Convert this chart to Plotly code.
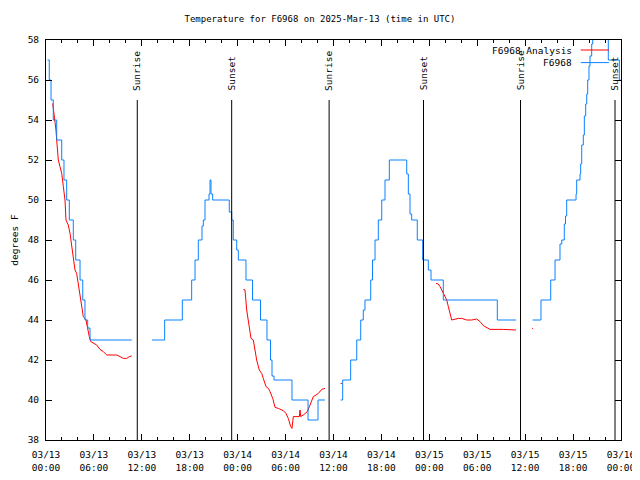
import plotly.graph_objects as go
import pandas as pd

BASE = pd.Timestamp("2025-03-13 00:00")

# Hours since 2025-03-13 00:00 UTC (None = data gap)
obs_hours = [0.19, 0.41, 0.63, 0.91, 1.34, 1.97, 2.25, 2.59, 2.92, 3.42, 3.72, 4.26, 4.60, 4.88, 5.22, 5.51, 10.73,
             None,
             13.27, 14.86, 17.07, 18.24, 18.66, 19.07, 19.53, 19.70, 19.91, 20.41, 20.54, 20.66, 20.87, 22.95,
             23.25, 23.45, 23.88, 24.08, 25.04, 25.86, 26.86, 27.67, 28.11, 28.30, 28.55, 30.80, 32.81, 34.06, 34.94,
             None,
             36.90, 37.15, 38.15, 38.91, 39.41, 39.73, 39.94, 40.66, 40.88, 41.20, 41.61, 42.04, 42.45, 42.99,
             44.99, 45.17, 45.37, 45.58, 45.79, 46.49, 47.17, 47.87, 48.21, 49.75, 56.51, 58.85,
             None,
             60.94, 61.98, 63.20, 63.74, 64.36, 64.58, 64.90, 65.05, 65.20, 66.37, 66.45, 66.87, 66.95, 67.08,
             67.28, 67.41, 67.58, 67.71, 67.83, 67.99, 68.12, 68.33, 68.46, 68.62, 70.41, 71.79, 71.94]
obs_temp = [57, 56, 55, 54, 53, 52, 51, 50, 49, 48, 47, 46, 45, 44, 43.6, 43, 43,
            None,
            43, 44, 45, 46, 47, 48, 48.7, 49, 50, 50.3, 51, 50.3, 50, 49.4,
            49, 48, 47.5, 47, 46, 45, 44, 43, 42, 41.2, 41, 40, 39, 40, 40,
            None,
            40, 41, 42, 43, 44, 44.5, 45, 46, 47, 48, 49, 50, 51, 52,
            52, 51.3, 50.3, 49.3, 49, 48, 47, 46.5, 46, 45, 44, 44,
            None,
            44, 45, 46, 47, 47.8, 48, 48.8, 49.2, 50, 50.3, 51, 51.3, 51.8, 52.75,
            53.25, 54.2, 54.8, 55.3, 56, 56.7, 57.2, 57.8, 58.5, 59, 57, 56, 56]

ana_hours = [0.84, 1.00, 1.13, 1.25, 1.34, 1.54, 1.75, 1.97, 2.17, 2.38, 2.50, 2.79, 3.01, 3.22, 3.42, 3.63,
             3.84, 4.04, 4.17, 4.35, 4.47, 4.67, 5.01, 5.22, 5.42, 5.60, 5.92, 6.35, 6.76, 7.18, 7.60, 8.85,
             9.27, 9.68, 10.11, 10.43, 10.73,
             None,
             24.71, 24.92, 25.13, 25.33, 25.54, 25.67, 25.96, 26.17, 26.38, 26.71, 27.01, 27.21, 27.55, 27.84,
             28.05, 28.39, 28.68, 29.09, 29.71, 30.05, 30.34, 30.64, 30.80, 30.97, 31.39, 31.72, 31.81, 31.89,
             32.22, 32.72, 33.06, 33.47, 33.81, 34.10, 34.52, 34.94,
             None,
             36.88, 37.06,
             None,
             48.84, 49.12, 49.34, 49.75, 50.18, 50.38, 50.59, 50.80, 51.63, 52.05, 52.68, 53.31, 53.93, 54.35,
             54.76, 55.19, 55.60, 57.26, 58.31, 58.85,
             None,
             60.86, 60.98]
ana_temp = [54.83, 54.33, 54.0, 53.5, 53.0, 52.0, 51.67, 51.33, 50.67, 50.0, 49.0, 48.75, 48.33, 47.67, 47.0, 46.5,
            46.33, 45.83, 45.5, 45.17, 44.67, 44.17, 44.0, 43.5, 43.17, 42.92, 42.83, 42.75, 42.53, 42.42, 42.25, 42.25,
            42.17, 42.08, 42.08, 42.17, 42.2,
            None,
            45.53, 45.5, 44.5, 44.0, 43.5, 43.08, 43.0, 42.5, 42.0, 41.5, 41.33, 41.08, 40.67, 40.58,
            40.42, 40.08, 39.63, 39.58, 39.47, 39.33, 39.08, 38.67, 38.58, 39.17, 39.17, 39.17, 39.5, 39.17,
            39.25, 39.42, 39.75, 40.17, 40.25, 40.33, 40.53, 40.58,
            None,
            40.83, 40.83,
            None,
            45.83, 45.8, 45.67, 45.33, 45.0, 44.67, 44.33, 44.0, 44.08, 44.08, 44.0, 44.0, 44.05, 43.92,
            43.72, 43.63, 43.53, 43.53, 43.53, 43.5,
            None,
            43.58, 43.58]

event_hours = [11.43, 23.25, 35.45, 47.27, 59.42, 71.25]
event_labels = ["Sunrise", "Sunset", "Sunrise", "Sunset", "Sunrise", "Sunset"]

tick_hours = [0, 6, 12, 18, 24, 30, 36, 42, 48, 54, 60, 66, 72]
tick_labels = ["03/13<br>00:00", "03/13<br>06:00", "03/13<br>12:00", "03/13<br>18:00",
               "03/14<br>00:00", "03/14<br>06:00", "03/14<br>12:00", "03/14<br>18:00",
               "03/15<br>00:00", "03/15<br>06:00", "03/15<br>12:00", "03/15<br>18:00",
               "03/16<br>00:00"]
y_ticks = [38, 40, 42, 44, 46, 48, 50, 52, 54, 56, 58]

series_names = ["F6968_Analysis", "F6968"]
series_colors = ["#ff0000", "#0a80ff"]


def to_time(hours):
    return [None if h is None else BASE + pd.Timedelta(hours=h) for h in hours]


FONT = "DejaVu Sans Mono"

fig = go.Figure()
fig.add_trace(go.Scatter(x=to_time(ana_hours), y=ana_temp, mode="lines",
                         line=dict(color=series_colors[0], width=1), connectgaps=False,
                         name=series_names[0], showlegend=False))
fig.add_trace(go.Scatter(x=to_time(obs_hours), y=obs_temp, mode="lines",
                         line=dict(color=series_colors[1], width=1, shape="hv"), connectgaps=False,
                         name=series_names[1], showlegend=False))

for h, lab in zip(event_hours, event_labels):
    t = BASE + pd.Timedelta(hours=h)
    fig.add_shape(type="line", xref="x", yref="paper", x0=t, x1=t, y0=0, y1=0.85,
                  line=dict(color="black", width=1))
    fig.add_annotation(x=t, xref="x", y=0.868, yref="paper", text=lab, textangle=-90,
                       showarrow=False, xanchor="center", yanchor="bottom",
                       font=dict(family=FONT, size=9.5, color="black"))

# legend (gnuplot style: text then line sample)
leg_y = [0.975, 0.9435]
for name, col, ly in zip(series_names, series_colors, leg_y):
    fig.add_annotation(x=0.918, xref="paper", y=ly, yref="paper", text=name.replace("_", " "),
                       showarrow=False, xanchor="right", yanchor="middle",
                       font=dict(family=FONT, size=9.5, color="black"))
    fig.add_shape(type="line", xref="paper", yref="paper", x0=0.93, x1=0.979, y0=ly, y1=ly,
                  line=dict(color=col, width=1))

fig.add_annotation(x=-0.056, xref="paper", y=0.5, yref="paper", text="degrees F", textangle=-90,
                   showarrow=False, xanchor="center", yanchor="middle",
                   font=dict(family=FONT, size=9.5, color="black"))

# page body has an 8px default margin, so margins are offset by 8px
fig.update_layout(
    width=640, height=480,
    margin=dict(l=38, r=27, t=32, b=48, autoexpand=False),
    paper_bgcolor="white", plot_bgcolor="white",
    title=dict(text="Temperature for F6968 on 2025-Mar-13 (time in UTC)", x=(320 - 8) / 640, xref="container",
               xanchor="center", y=1 - 11 / 480, yref="container", yanchor="middle",
               font=dict(family=FONT, size=9, color="black"), automargin=False),
    font=dict(family=FONT, size=9.5, color="black"),
    showlegend=False,
)
fig.update_xaxes(
    type="date", automargin=False,
    range=[BASE, BASE + pd.Timedelta(hours=72)],
    tickvals=[BASE + pd.Timedelta(hours=h) for h in tick_hours],
    ticktext=tick_labels,
    ticks="inside", ticklen=6, tickwidth=1, tickcolor="black",
    ticklabelstandoff=6,
    minor=dict(dtick=2 * 3600 * 1000, tick0=BASE, ticks="inside", ticklen=3, tickcolor="black", showgrid=False),
    showline=True, linecolor="black", linewidth=1, mirror="ticks",
    showgrid=False, zeroline=False,
    tickfont=dict(family=FONT, size=9.5, color="black"),
)
fig.update_yaxes(
    automargin=False,
    range=[38, 58],
    tickvals=y_ticks,
    ticks="inside", ticklen=6, tickwidth=1, tickcolor="black",
    ticklabelstandoff=4,
    showline=True, linecolor="black", linewidth=1, mirror="ticks",
    showgrid=False, zeroline=False,
    tickfont=dict(family=FONT, size=9.5, color="black"),
)

fig.write_html("out.html")
